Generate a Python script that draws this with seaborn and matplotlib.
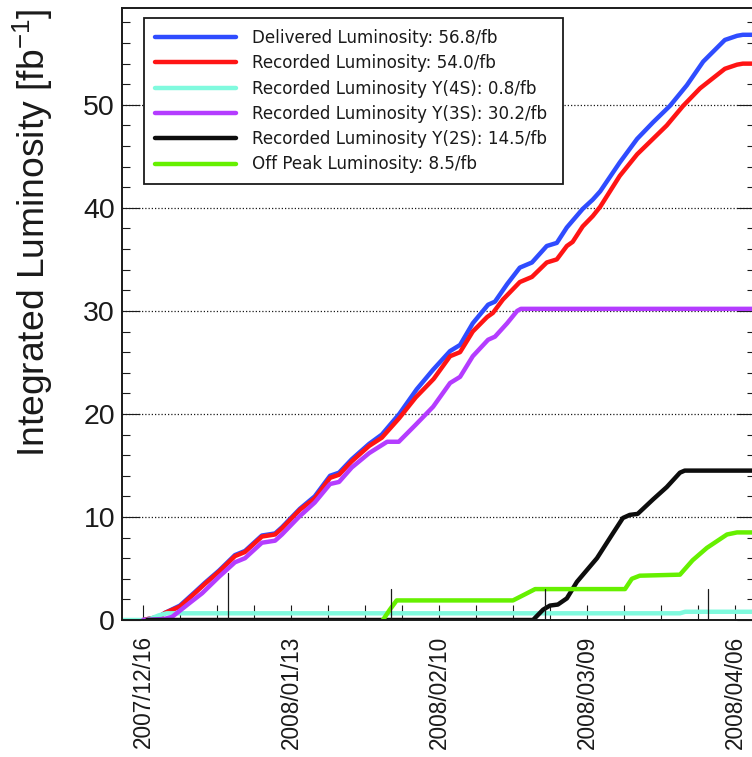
import matplotlib
matplotlib.use("Agg")
import numpy as np
import pandas as pd
import matplotlib.pyplot as plt
import matplotlib.dates as mdates
from matplotlib.ticker import MultipleLocator, FixedLocator
import seaborn as sns

START = "2007-12-16"

delivered_days = [0, 3, 4.2, 7.0, 9.8, 11.7, 14.4, 17.4, 19.3, 22.5, 25.0, 26.3, 29.7, 32.5, 35.4, 37.1,
                  39.5, 42.8, 45.2, 48.5, 51.8, 54.9, 58.1, 60.0, 62.4, 65.3, 66.6, 68.9, 71.3, 73.6,
                  76.4, 78.3, 80.2, 83.2, 85.1, 86.5, 90.2, 93.5, 96.5, 99.7, 102.9, 106.0, 110.1,
                  112.4, 113.5, 116]
delivered_vals = [0, 0.3, 0.7, 1.4, 2.7, 3.6, 4.8, 6.3, 6.7, 8.2, 8.4, 9.0, 10.8, 12.0, 14.0, 14.3,
                  15.6, 17.1, 18.0, 20.0, 22.4, 24.3, 26.1, 26.7, 28.8, 30.6, 30.9, 32.6, 34.2, 34.7,
                  36.3, 36.6, 38.1, 39.9, 40.8, 41.6, 44.4, 46.7, 48.3, 49.9, 51.9, 54.2, 56.3,
                  56.7, 56.8, 56.8]

recorded_days = [0, 3, 4.2, 7.0, 9.8, 11.7, 14.4, 17.4, 19.3, 22.5, 25.0, 26.3, 29.7, 32.5, 35.4, 37.1,
                 39.5, 42.8, 45.2, 48.5, 51.6, 55.0, 58.1, 60.0, 62.4, 65.1, 66.2, 68.1, 71.3, 73.6,
                 76.4, 78.3, 80.2, 81.3, 83.2, 85.1, 86.5, 90.2, 93.5, 99.1, 102.2, 105.4, 110.1,
                 112.4, 113.5, 116]
recorded_vals = [0, 0.3, 0.7, 1.3, 2.6, 3.5, 4.7, 6.2, 6.6, 8.1, 8.3, 8.9, 10.7, 11.8, 13.8, 14.1,
                 15.4, 16.9, 17.7, 19.6, 21.6, 23.4, 25.6, 26.0, 28.0, 29.4, 29.8, 31.1, 32.8, 33.3,
                 34.7, 35.0, 36.3, 36.7, 38.2, 39.2, 40.1, 43.1, 45.2, 48.0, 49.9, 51.6, 53.5,
                 53.9, 54.0, 54.0]

y4s_days = [-4, 0.8, 3.0, 4.5, 101.6, 102.6, 116]
y4s_vals = [0, 0, 0.45, 0.65, 0.65, 0.8, 0.8]

y3s_days = [0, 4.0, 5.5, 8.7, 11.2, 14.4, 17.4, 19.3, 22.5, 25.0, 26.3, 29.5, 32.5, 35.4, 37.1, 39.5,
            42.8, 46.2, 48.4, 51.5, 54.9, 58.1, 60.0, 62.4, 65.3, 66.6, 68.9, 70.8, 71.5, 116]
y3s_vals = [0, 0.1, 0.3, 1.6, 2.6, 4.2, 5.6, 6.0, 7.5, 7.7, 8.3, 10.0, 11.4, 13.2, 13.4, 14.8,
            16.2, 17.3, 17.3, 18.9, 20.7, 23.0, 23.6, 25.6, 27.2, 27.5, 28.8, 30.0, 30.2, 30.2]

y2s_days = [0.8, 73.8, 75.7, 77.0, 78.5, 80.2, 82.1, 85.9, 88.9, 90.8, 92.1, 93.6, 96.5, 99.1,
            101.6, 102.5, 116]
y2s_vals = [0, 0, 1.0, 1.4, 1.5, 2.1, 3.7, 6.0, 8.4, 9.9, 10.2, 10.3, 11.7, 12.9, 14.3, 14.5, 14.5]

offpeak_days = [45.4, 46.7, 48.0, 70.0, 72.3, 74.2, 91.2, 92.5, 94.0, 101.6, 104.0, 106.7, 110.5,
                112.4, 116]
offpeak_vals = [0, 1.0, 1.9, 1.9, 2.5, 3.0, 3.0, 4.0, 4.3, 4.4, 5.8, 7.0, 8.3, 8.5, 8.5]

labels = ["Delivered Luminosity: 56.8/fb",
          "Recorded Luminosity: 54.0/fb",
          "Recorded Luminosity Y(4S): 0.8/fb",
          "Recorded Luminosity Y(3S): 30.2/fb",
          "Recorded Luminosity Y(2S): 14.5/fb",
          "Off Peak Luminosity: 8.5/fb"]
colors = ["#2f4cff", "#ff1414", "#80fade", "#b43cff", "#0d0d0d", "#66f000"]

series = [(delivered_days, delivered_vals), (recorded_days, recorded_vals),
          (y4s_days, y4s_vals), (y3s_days, y3s_vals),
          (y2s_days, y2s_vals), (offpeak_days, offpeak_vals)]

sns.set_theme(style="white")
plt.rcParams["font.family"] = ["DejaVu Sans"]
plt.rcParams["text.color"] = "k"
plt.rcParams["axes.labelcolor"] = "k"
plt.rcParams["mathtext.fontset"] = "custom"
plt.rcParams["mathtext.rm"] = "Liberation Sans"
plt.rcParams["mathtext.it"] = "Liberation Sans:italic"
plt.rcParams["mathtext.bf"] = "Liberation Sans:bold"
AXFONT = ["Liberation Sans", "DejaVu Sans"]

fig = plt.figure(figsize=(7.52, 7.57), dpi=100)
ax = fig.add_axes([122 / 752, 137 / 757, 633 / 752, 612 / 757])

base = pd.Timestamp(START)
for (days, vals), lab, col in zip(series, labels, colors):
    dates = base + pd.to_timedelta(days, unit="D")
    sns.lineplot(x=dates, y=vals, ax=ax, color=col, lw=3.2, label=lab,
                 estimator=None, sort=False)

ax.set_xlim(base - pd.Timedelta(days=3.97), base + pd.Timedelta(days=115.8))
ax.set_ylim(0, 59.4)

# x ticks
major_dates = pd.date_range(START, periods=5, freq="28D")
minor_dates = [d for d in pd.date_range(START, periods=17, freq="7D") if d not in set(major_dates)]
ax.xaxis.set_major_locator(FixedLocator(mdates.date2num(major_dates)))
ax.xaxis.set_minor_locator(FixedLocator(mdates.date2num(minor_dates)))
ax.xaxis.set_major_formatter(mdates.DateFormatter("%Y/%m/%d"))
ax.tick_params(axis="x", which="both", direction="in", length=10.8, width=0.8, color="k",
               bottom=True, top=False, pad=11, labelrotation=90, labelcolor="k")

# y ticks
ax.yaxis.set_major_locator(MultipleLocator(10))
ax.yaxis.set_minor_locator(MultipleLocator(2))
ax.tick_params(axis="y", which="major", direction="in", length=13, width=0.8, color="k",
               left=True, right=True, pad=5, labelcolor="k")
ax.tick_params(axis="y", which="minor", direction="in", length=5.8, width=0.8, color="k",
               left=True, right=True)
for t in ax.get_xticklabels():
    t.set_fontfamily(AXFONT)
    t.set_fontsize(16.3)
for t in ax.get_yticklabels():
    t.set_fontfamily(AXFONT)
    t.set_fontsize(20.5)

ax.yaxis.grid(True, which="major", linestyle=(0, (1, 1.6)), color="k", lw=0.9)
ax.xaxis.grid(False)
ax.set_axisbelow(True)

for s in ax.spines.values():
    s.set_color("k")
    s.set_linewidth(1.4)

# month start markers
for m in pd.date_range("2008-01-01", "2008-04-01", freq="MS"):
    ax.axvline(m, ymin=0, ymax=0.077 if m.month == 1 else 0.05, color="k", lw=0.9)

ax.set_xlabel("")
ax.set_ylabel(r"Integrated Luminosity [fb$^{-1}$]", fontsize=26.8, loc="top", color="k",
              family=AXFONT)
ax.yaxis.set_label_coords(-0.106, 1.0)

handles, labs = ax.get_legend_handles_labels()
leg = ax.legend(handles, labs, loc="upper left", bbox_to_anchor=(0.0348, 0.5, 0.662, 0.4837),
                mode="expand", borderaxespad=0, fontsize=12.1, handlelength=4.8,
                handletextpad=0.95, labelspacing=0.435, borderpad=0.65, fancybox=False,
                framealpha=1, edgecolor="k")
leg.get_frame().set_linewidth(1.3)
for line in leg.get_lines():
    line.set_linewidth(3.2)
for t in leg.get_texts():
    t.set_color("k")

fig.savefig("out.png", dpi=100)
